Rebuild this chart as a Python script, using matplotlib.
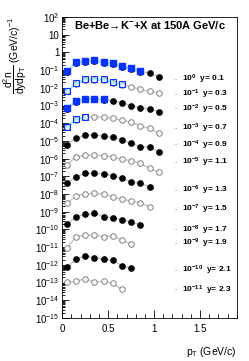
import numpy as np
import matplotlib
matplotlib.use("Agg")
import matplotlib.pyplot as plt
from matplotlib.ticker import LogLocator, FixedLocator, MultipleLocator, FuncFormatter

plt.rcParams['font.family'] = ['Liberation Sans', 'DejaVu Sans']
plt.rcParams['mathtext.default'] = 'regular'

# pT bin centres (GeV/c)
pt = [0.05, 0.15, 0.25, 0.35, 0.45, 0.55, 0.65, 0.75, 0.85, 0.95, 1.05]

# rapidity bins, scale factors and styles (filled / open alternate)
rap_labels = ['0.1', '0.3', '0.5', '0.7', '0.9', '1.1', '1.3', '1.5', '1.7', '1.9', '2.1', '2.3']
scale_exp = [0, -1, -2, -3, -4, -5, -6, -7, -8, -9, -10, -11]

# black/grey circles, unscaled d2n/dydpT
y01 = [0.079, 0.24, 0.30, 0.34, 0.25, 0.22, 0.15, 0.11, 0.083, 0.066, 0.043]
y03 = [0.063, 0.166, 0.28, 0.29, 0.28, 0.19, 0.15, 0.115, 0.083, 0.063, 0.052]
y05 = [0.066, 0.166, 0.22, 0.224, 0.21, 0.186, 0.145, 0.098, 0.076, 0.062, 0.045]
y07 = [0.060, 0.158, 0.214, 0.234, 0.214, 0.19, 0.15, 0.112, 0.069, 0.051, 0.028]
y09 = [0.059, 0.141, 0.214, 0.214, 0.19, 0.158, 0.112, 0.072, 0.047, 0.044, 0.025]
y11 = [0.044, 0.129, 0.158, 0.158, 0.145, 0.129, 0.091, 0.076, 0.054, 0.028, 0.017]
y13 = [0.040, 0.095, 0.148, 0.148, 0.135, 0.105, 0.078, 0.049, 0.040, 0.026]
y15 = [0.030, 0.078, 0.10, 0.11, 0.10, 0.071, 0.052, 0.040, 0.033, 0.019]
y17 = [0.0195, 0.052, 0.071, 0.081, 0.052, 0.046, 0.034, 0.0275, 0.018]
y19 = [0.0085, 0.039, 0.048, 0.048, 0.039, 0.044, 0.025, 0.015]
y21 = [0.0072, 0.021, 0.032, 0.026, 0.021, 0.0186, 0.0085, 0.0063]
y23 = [0.0102, 0.012, 0.016, 0.0102, 0.012, 0.0089, 0.0042]
circles = [y01, y03, y05, y07, y09, y11, y13, y15, y17, y19, y21, y23]

# blue squares (second data set) for the lowest rapidity bins
b01 = [0.089, 0.275, 0.32, 0.37, 0.275, 0.24, 0.17, 0.126, 0.089]
b03 = [0.066, 0.178, 0.30, 0.30, 0.30, 0.20, 0.16]
b05 = [0.069, 0.178, 0.234, 0.234, 0.224]
b07 = [0.063, 0.166, 0.214]
squares = [b01, b03, b05, b07]

# vertical position of row labels (log10 of plotted value)
label_pos = [-1.52, -2.37, -3.20, -4.29, -5.23, -6.21, -7.81, -8.86, -10.03, -10.79, -12.33, -13.42]

fig = plt.figure(figsize=(2.49, 3.61), dpi=100)
ax = fig.add_axes([62.3 / 249, 1 - 318 / 361, 174.4 / 249, 301 / 361])

blue = '#0a32ff'
for i, vals in enumerate(circles):
    s = 10.0 ** scale_exp[i]
    yy = np.array(vals) * s
    xx = pt[:len(vals)]
    ax.plot(xx, yy, '-', color='#c4c4c4', lw=1.0, zorder=2)
    if i % 2 == 0:
        ax.plot(xx, yy, 'o', ms=3.8, mfc='black', mec='black', zorder=3)
    else:
        ax.plot(xx, yy, 'o', ms=4.0, mfc='white', mec='#808080', mew=0.7, zorder=3)

for i, vals in enumerate(squares):
    s = 10.0 ** scale_exp[i]
    yy = np.array(vals) * s
    xx = pt[:len(vals)]
    ax.plot(xx, yy, '-', color='#a8ecff', lw=1.6, zorder=4)
    if i % 2 == 0:
        ax.plot(xx, yy, 's', ms=4.2, mfc=blue, mec=blue, zorder=5)
    else:
        ax.plot(xx, yy, 's', ms=4.2, mfc='none', mec=blue, mew=0.8, zorder=5)

for i in range(len(rap_labels)):
    yp = 10.0 ** label_pos[i]
    ax.text(1.24, yp, '-', color='#909090', fontsize=5, va='center', ha='center')
    ax.text(1.30, yp, '10$^{%d}$  y= %s' % (scale_exp[i], rap_labels[i]),
            fontsize=6, fontweight='bold', va='center', ha='left')

ax.set_yscale('log')
ax.set_xlim(0, 1.9)
ax.set_ylim(1e-15, 1e2)

ax.yaxis.set_major_locator(LogLocator(base=10, numticks=30))
ax.yaxis.set_minor_locator(LogLocator(base=10, subs=np.arange(2, 10), numticks=30))


def yfmt(v, pos):
    e = int(round(np.log10(v)))
    if e == 0:
        return '1'
    if e == 1:
        return '10'
    return '10$^{%d}$' % e


ax.yaxis.set_major_formatter(FuncFormatter(yfmt))
ax.yaxis.set_minor_formatter(FuncFormatter(lambda v, p: ''))
ax.xaxis.set_major_locator(FixedLocator([0, 0.5, 1.0, 1.5]))
ax.xaxis.set_minor_locator(MultipleLocator(0.1))
ax.xaxis.set_major_formatter(FuncFormatter(lambda v, p: '0' if v == 0 else ('%g' % v)))

ax.tick_params(which='both', direction='in', top=False, right=False, labelsize=7, width=0.6)
ax.tick_params(axis='y', which='major', length=5, pad=2)
ax.tick_params(axis='y', which='minor', length=2.5)
ax.tick_params(axis='x', which='major', length=6, pad=4)
ax.tick_params(axis='x', which='minor', length=3)
for sp in ax.spines.values():
    sp.set_linewidth(0.6)

ax.text(0.067, 0.973, 'Be+Be\u2192K$^{-}$+X at 150A GeV/c', transform=ax.transAxes,
        fontsize=8, fontweight='bold', va='center', ha='left')

fig.text(15 / 249, 1 - 55 / 361, r'$\dfrac{d^{2}n}{dydp_{T}}$ (GeV/c)$^{-1}$',
         rotation=90, ha='center', va='center', fontsize=7.5)
fig.text(237 / 249, 1 - 352 / 361, 'p$_{T}$ (GeV/c)', ha='right', va='center', fontsize=7.5)

fig.savefig('out.png', dpi=100)
